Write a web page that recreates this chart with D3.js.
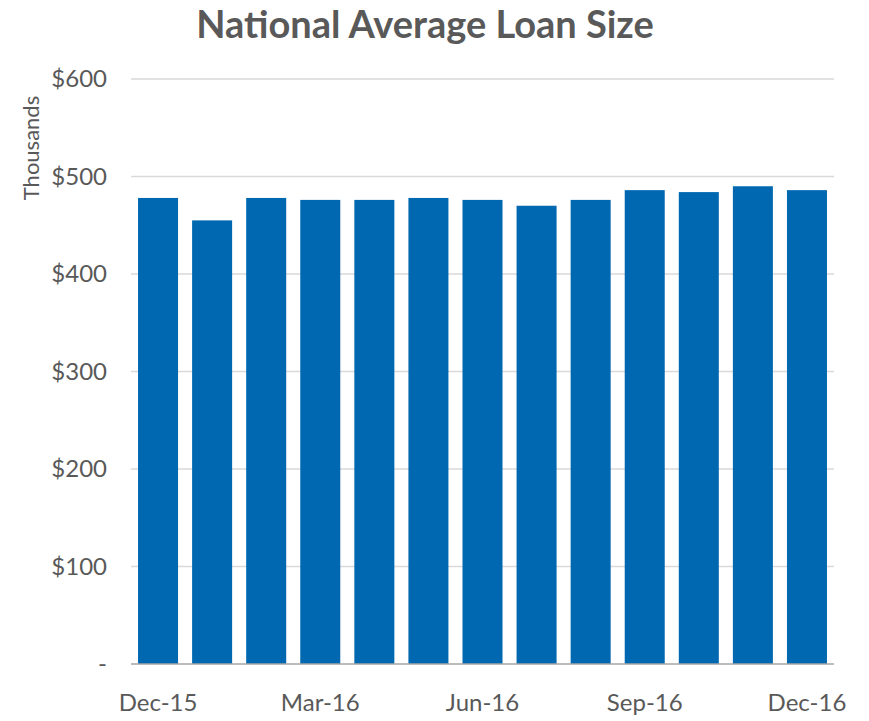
<!DOCTYPE html>
<html>
<head>
<meta charset="utf-8">
<script src="https://cdn.jsdelivr.net/npm/d3@7"></script>
<style>
  body { margin: 0; background: #fff; }
  text { font-family: Lato, "Open Sans", sans-serif; fill: #595959; }
</style>
</head>
<body>
<div id="chart"></div>
<script>
var months = ['Dec-15', 'Jan-16', 'Feb-16', 'Mar-16', 'Apr-16', 'May-16', 'Jun-16',
              'Jul-16', 'Aug-16', 'Sep-16', 'Oct-16', 'Nov-16', 'Dec-16'];
var loan_size = [478, 455, 478, 476, 476, 478, 476, 470, 476, 486, 484, 490, 486];
var shown_labels = ['Dec-15', 'Mar-16', 'Jun-16', 'Sep-16', 'Dec-16'];
var y_ticks = [0, 100, 200, 300, 400, 500, 600];

var width = 869, height = 721;
var margin = {top: 79, right: 35, bottom: 57, left: 131};
var inner_w = width - margin.left - margin.right;
var inner_h = height - margin.top - margin.bottom;

var bar_color = '#0068b1';

var svg = d3.select('#chart')
    .append('svg')
        .attr('width', width)
        .attr('height', height);

var g = svg.append('g')
    .attr('transform', 'translate(' + margin.left + ',' + margin.top + ')');

var x_scale = d3.scaleBand()
    .domain(months)
    .range([0, inner_w])
    .paddingInner(0.26)
    .paddingOuter(0.13);

var y_scale = d3.scaleLinear()
    .domain([0, 600])
    .range([inner_h, 0]);

// gridlines
g.append('g')
    .selectAll('line')
    .data(y_ticks.slice(1))
    .enter()
    .append('line')
        .attr('x1', 0)
        .attr('x2', inner_w)
        .attr('y1', function(d) { return y_scale(d); })
        .attr('y2', function(d) { return y_scale(d); })
        .attr('stroke', '#d9d9d9')
        .attr('stroke-width', 1.5);

// bars
g.selectAll('.bar')
    .data(loan_size)
    .enter()
    .append('rect')
        .attr('class', 'bar')
        .attr('x', function(d, i) { return x_scale(months[i]); })
        .attr('y', function(d) { return y_scale(d); })
        .attr('width', x_scale.bandwidth())
        .attr('height', function(d) { return inner_h - y_scale(d); })
        .attr('fill', bar_color);

// baseline
g.append('line')
    .attr('x1', 0)
    .attr('x2', inner_w)
    .attr('y1', inner_h)
    .attr('y2', inner_h)
    .attr('stroke', '#a6a6a6')
    .attr('stroke-width', 1.5);

// y axis
var y_axis = d3.axisLeft(y_scale)
    .tickValues(y_ticks)
    .tickSize(0)
    .tickPadding(24)
    .tickFormat(function(d) { return d === 0 ? '-' : '$' + d; });

g.append('g')
    .attr('class', 'y-axis')
    .call(y_axis)
    .call(function(s) { s.select('.domain').remove(); })
    .selectAll('text')
        .style('font-size', '24px')
        .style('fill', '#595959');

// x axis
var x_axis = d3.axisBottom(x_scale)
    .tickValues(shown_labels)
    .tickSize(0)
    .tickPadding(30);

g.append('g')
    .attr('class', 'x-axis')
    .attr('transform', 'translate(0,' + inner_h + ')')
    .call(x_axis)
    .call(function(s) { s.select('.domain').remove(); })
    .selectAll('text')
        .style('font-size', '24px')
        .style('fill', '#595959');

// y label
svg.append('text')
    .attr('transform', 'translate(39,148)rotate(-90)')
    .attr('text-anchor', 'middle')
    .style('font-size', '22px')
    .text('Thousands');

// title
svg.append('text')
    .attr('x', 425)
    .attr('y', 38)
    .attr('text-anchor', 'middle')
    .style('font-size', '38px')
    .style('font-weight', 'bold')
    .text('National  Average Loan Size');
</script>
</body>
</html>
